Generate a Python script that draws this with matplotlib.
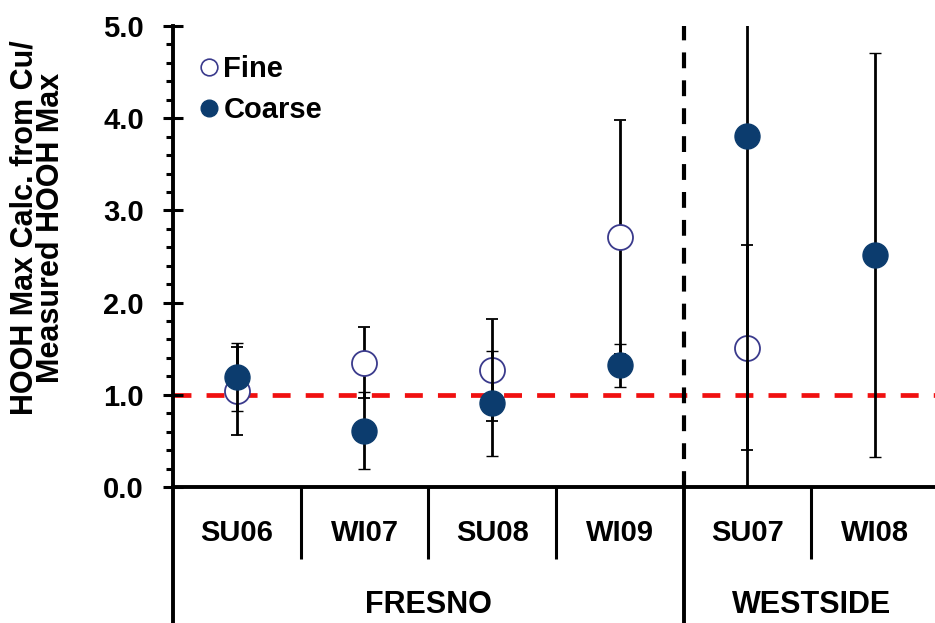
import numpy as np
import matplotlib.pyplot as plt
from matplotlib.lines import Line2D
from matplotlib.ticker import MultipleLocator, FormatStrFormatter

plt.rcParams['font.family'] = ['Liberation Sans', 'DejaVu Sans']
plt.rcParams['font.weight'] = 'bold'

# Data
campaigns = ['SU06', 'WI07', 'SU08', 'WI09', 'SU07', 'WI08']
sites = ['FRESNO', 'WESTSIDE']
site_sizes = [4, 2]

fine = [1.04, 1.35, 1.27, 2.71, 1.51, np.nan]
fine_err = [0.48, 0.39, 0.55, 1.27, 1.11, np.nan]
coarse = [1.19, 0.61, 0.91, 1.32, 3.81, 2.52]
coarse_err = [0.37, 0.42, 0.57, 0.23, 4.20, 2.19]

navy = '#0c3c6e'
fine_edge = '#3a3a8c'

W, H = 935, 623
fig = plt.figure(figsize=(W / 100, H / 100), dpi=100)
# axes: x from 173px (extends a bit past right edge), y=0 at 487px, y=5 at 26px
ax = fig.add_axes([173 / W, 1 - 487 / H, 766 / W, 461 / H])

x = np.arange(len(campaigns))

# reference line at 1 and separator between sites
ax.plot([-0.5, 5.5], [1, 1], color='#f01010', lw=3.4, ls=(0, (3.8, 3.2)), zorder=1)
ax.plot([3.5, 3.5], [0, 5], color='black', lw=3, ls=(0, (3.8, 2.9)), zorder=1)

ax.errorbar(x, fine, yerr=fine_err, fmt='o', ms=18, mfc='white', mec=fine_edge,
            mew=1.3, ecolor='black', elinewidth=2, capsize=4, capthick=2, zorder=3)
ax.errorbar(x, coarse, yerr=coarse_err, fmt='o', ms=18, mfc=navy, mec=navy,
            mew=1, ecolor='black', elinewidth=2, capsize=4, capthick=2, zorder=4)

ax.set_xlim(-0.5, 5.5)
ax.set_ylim(0, 5)
ax.yaxis.set_major_locator(MultipleLocator(1))
ax.yaxis.set_minor_locator(MultipleLocator(0.2))
ax.yaxis.set_major_formatter(FormatStrFormatter('%.1f'))
ax.tick_params(axis='y', which='major', direction='inout', length=14, width=2.2,
               labelsize=21, pad=14)
ax.tick_params(axis='y', which='minor', direction='out', length=5, width=2.2)
ax.set_xticks([])
for s in ['top', 'right']:
    ax.spines[s].set_visible(False)
ax.spines['left'].set_linewidth(2.8)
ax.spines['bottom'].set_linewidth(2.8)

# category labels and separators below the axis
tr = ax.get_xaxis_transform()
for i, c in enumerate(campaigns):
    ax.text(i, -0.1, c, transform=tr, ha='center', va='center', fontsize=21,
            fontweight='bold')
for b in [0.5, 1.5, 2.5, 4.5]:
    ax.plot([b, b], [0, -0.156], transform=tr, color='black', lw=2.2,
            clip_on=False, solid_capstyle='butt')
start = -0.5
for name, n in zip(sites, site_sizes):
    ax.plot([start, start], [0, -0.3], transform=tr, color='black', lw=2.8,
            clip_on=False, solid_capstyle='butt')
    ax.text(start + n / 2, -0.256, name, transform=tr, ha='center', va='center',
            fontsize=22, fontweight='bold')
    start += n

# y label, two lines
fig.text(38 / W, 1 - 228 / H, 'HOOH Max Calc. from Cu/\nMeasured HOOH Max',
         rotation=90, ha='center', va='center', multialignment='center',
         linespacing=0.86, fontsize=22, fontweight='bold')

handles = [Line2D([], [], ls='none', marker='o', ms=12, mfc='white', mec=fine_edge, mew=1.2),
           Line2D([], [], ls='none', marker='o', ms=12, mfc=navy, mec=navy)]
ax.legend(handles, ['Fine', 'Coarse'], loc='upper left',
          bbox_to_anchor=(200 / W, 1 - 55 / H), bbox_transform=fig.transFigure,
          frameon=False, fontsize=21, handlelength=0.6, handletextpad=0.2,
          labelspacing=0.45, borderpad=0, borderaxespad=0)

fig.savefig('out.png', dpi=100)
